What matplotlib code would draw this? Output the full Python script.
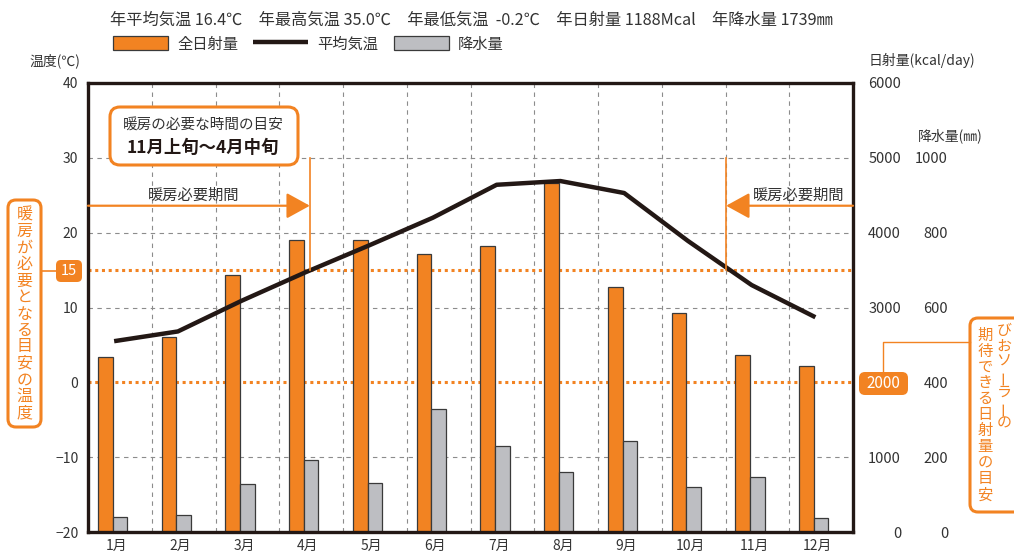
import numpy as np
import matplotlib.pyplot as plt
from matplotlib.patches import FancyBboxPatch
from matplotlib.lines import Line2D
from matplotlib.transforms import Affine2D

plt.rcParams['font.family'] = ['Noto Sans CJK JP', 'DejaVu Sans']

months = ['1月', '2月', '3月', '4月', '5月', '6月', '7月', '8月', '9月', '10月', '11月', '12月']
temp = [5.5, 6.8, 10.9, 14.7, 18.3, 22.0, 26.4, 26.9, 25.3, 18.9, 13.0, 8.7]
solar = [2340, 2610, 3430, 3900, 3900, 3710, 3820, 4670, 3270, 2920, 2360, 2220]
rain = [40, 45, 128, 192, 132, 328, 231, 160, 243, 119, 148, 38]

temp_ticks = [-20, -10, 0, 10, 20, 30, 40]
solar_ticks = [0, 1000, 2000, 3000, 4000, 5000, 6000]
solar_labels = ['0', '1000', '', '3000', '4000', '5000', '6000']
rain_ticks = [0, 200, 400, 600, 800, 1000]

header = '年平均気温 16.4℃\u3000年最高気温 35.0℃\u3000年最低気温  -0.2℃\u3000年日射量 1188Mcal\u3000年降水量 1739㎜'

ORANGE = '#F28322'
GRAY = '#BDBEC2'
DARK = '#231815'
TEXT = '#333333'

W, H = 1014, 557
fig = plt.figure(figsize=(W / 100, H / 100), dpi=100)
# pixel coordinates measured from the top-left corner
px = Affine2D().scale(1 / 100, -1 / 100).translate(0, H / 100) + fig.dpi_scale_trans

ax = fig.add_axes([88 / W, 1 - 532 / H, (853 - 88) / W, (532 - 83) / H])
axs = ax.twinx()
axr = ax.twinx()
axt = ax.twinx()

x = np.arange(12)

# grid
for v in [30, 20, 10, -10]:
    ax.axhline(v, color='#8c8c8c', lw=0.8, ls=(0, (4, 4)), zorder=1)
for v in np.arange(0.5, 11):
    ax.axvline(v, color='#8c8c8c', lw=0.8, ls=(0, (4, 4)), zorder=1)
for v in [15, 0]:
    ax.axhline(v, color=ORANGE, lw=2.2, ls=(0, (1, 1.2)), zorder=2)

ax.set_xlim(-0.5, 11.5)
ax.set_ylim(-20, 40)
ax.set_yticks(temp_ticks)
ax.set_xticks(x - 0.05, months)
ax.tick_params(axis='y', length=0, pad=7, labelsize=10, labelcolor=TEXT)
ax.tick_params(axis='x', length=0, pad=5, labelsize=10, labelcolor=TEXT)

b1 = axs.bar(x - 0.23, solar, width=0.23, color=ORANGE, edgecolor='#3a3a3a', lw=0.9, label='全日射量')
axs.set_ylim(0, 6000)
axs.set_yticks(solar_ticks, solar_labels, ha='right')
axs.tick_params(length=0, pad=34.6, labelsize=10.5, labelcolor=TEXT)

b2 = axr.bar(x, rain, width=0.23, color=GRAY, edgecolor='#3a3a3a', lw=0.9, label='降水量')
axr.set_ylim(0, 1200)
axr.set_yticks(rain_ticks, [str(v) for v in rain_ticks], ha='right')
axr.tick_params(length=0, pad=68.4, labelsize=10.5, labelcolor=TEXT)

ln, = axt.plot(x - 0.09, temp, color=DARK, lw=3.2, solid_capstyle='butt', label='平均気温')
axt.set_ylim(-20, 40)
axt.set_yticks([])

for a in (ax, axs, axr):
    for s in a.spines.values():
        s.set_visible(False)
for s in axt.spines.values():
    s.set_linewidth(2.4)
    s.set_color(DARK)

# heating period arrows
arrow = dict(arrowstyle='-|>,head_length=1.0,head_width=0.55', mutation_scale=14.4,
             color=ORANGE, lw=1.6, shrinkA=0, shrinkB=0)
axt.annotate('', xy=(2.98, 23.6), xytext=(-0.5, 23.6), arrowprops=arrow)
axt.annotate('', xy=(9.51, 23.6), xytext=(11.5, 23.6), arrowprops=arrow)
axt.plot([2.98, 2.98], [30, 15], color=ORANGE, lw=1.2)
axt.plot([9.51, 9.51], [30, 15], color=ORANGE, lw=1.2)
axt.text(1.16, 25.0, '暖房必要期間', ha='center', va='center', fontsize=11, color=TEXT)
axt.text(10.64, 25.0, '暖房必要期間', ha='center', va='center', fontsize=11, color=TEXT)

# info box
fig.add_artist(FancyBboxPatch((110, 107), 188, 58, boxstyle='round,pad=0,rounding_size=10',
                              transform=px, fc='white', ec=ORANGE, lw=2.2))
fig.text(203, 126, '暖房の必要な時間の目安', transform=px, ha='center', va='center',
         fontsize=10.5, color=TEXT)
fig.text(203, 148, '11月上旬〜4月中旬', transform=px, ha='center', va='center',
         fontsize=12.5, fontweight='bold', color=DARK)

# left side note
fig.add_artist(FancyBboxPatch((8, 200), 33, 227, boxstyle='round,pad=0,rounding_size=8',
                              transform=px, fc='white', ec=ORANGE, lw=2.2))
for i, ch in enumerate('暖房が必要となる目安の温度'):
    fig.text(24.5, 215 + 16.5 * i, ch, transform=px, ha='center', va='center',
             fontsize=11.5, color=ORANGE)
fig.add_artist(Line2D([41, 56], [271, 271], transform=px, color=ORANGE, lw=1.2))
fig.add_artist(FancyBboxPatch((56, 260), 26, 22, boxstyle='round,pad=0,rounding_size=5',
                              transform=px, fc=ORANGE, ec='none'))
fig.text(69, 271, '15', transform=px, ha='center', va='center', fontsize=10.5, color='white')

# right side note
fig.add_artist(Line2D([883, 883, 970], [372, 342, 342], transform=px, color=ORANGE, lw=1.0))
fig.add_artist(FancyBboxPatch((859, 372), 49, 23, boxstyle='round,pad=0,rounding_size=6',
                              transform=px, fc=ORANGE, ec='none'))
fig.text(883.5, 383.5, '2000', transform=px, ha='center', va='center', fontsize=11, color='white')
fig.add_artist(FancyBboxPatch((970, 318), 60, 194, boxstyle='round,pad=0,rounding_size=8',
                              transform=px, fc='white', ec=ORANGE, lw=2.2))
for i, ch in enumerate('びおソーラーの'):
    fig.text(1004, 331 + 15.4 * i, ch, transform=px, ha='center', va='center', fontsize=10.8,
             color=ORANGE, rotation=90 if ch == 'ー' else 0)
for i, ch in enumerate('期待できる日射量の目安'):
    fig.text(985, 335 + 16 * i, ch, transform=px, ha='center', va='center', fontsize=11,
             color=ORANGE)

# axis titles and header
fig.text(55, 61, '温度(℃)', transform=px, ha='center', va='center', fontsize=10, color=TEXT)
fig.text(869, 60, '日射量(kcal/day)', transform=px, ha='left', va='center', fontsize=10, color=TEXT)
fig.text(918, 136, '降水量(㎜)', transform=px, ha='left', va='center', fontsize=10, color=TEXT)
fig.text(110, 20, header, transform=px, ha='left', va='center', fontsize=11.7, color=TEXT)

fig.legend(handles=[b1, ln, b2], loc='center left', bbox_to_anchor=(113 / W, 1 - 44 / H),
           ncol=3, frameon=False, handlelength=3.6, handleheight=1.0, handletextpad=0.6,
           columnspacing=1.0, borderpad=0, borderaxespad=0, fontsize=11, labelcolor=TEXT)

fig.savefig('out.png', dpi=100)
